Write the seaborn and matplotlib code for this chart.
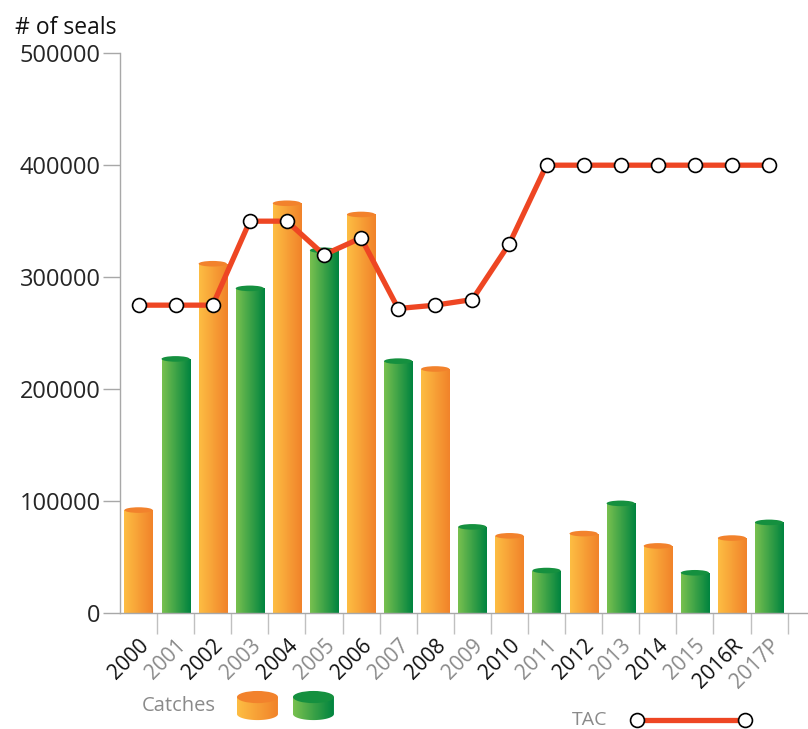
import numpy as np
import pandas as pd
import matplotlib.pyplot as plt
import seaborn as sns
from matplotlib.colors import LinearSegmentedColormap
from matplotlib.patches import Ellipse, Polygon
from matplotlib.lines import Line2D
from matplotlib.transforms import ScaledTranslation

years = ["2000", "2001", "2002", "2003", "2004", "2005", "2006", "2007", "2008",
         "2009", "2010", "2011", "2012", "2013", "2014", "2015", "2016R", "2017P"]
catches = [92000, 227000, 312000, 290000, 366000, 324000, 356000, 225000, 218000,
           77000, 69000, 38000, 71000, 98000, 60000, 36000, 67000, 81000]
tac = [275000, 275000, 275000, 350000, 350000, 320000, 335000, 272000, 275000,
       280000, 330000, 400000, 400000, 400000, 400000, 400000, 400000, 400000]
kind = ["orange" if i % 2 == 0 else "green" for i in range(len(years))]

df = pd.DataFrame({"year": years, "catch": catches, "kind": kind})

orange_cm = LinearSegmentedColormap.from_list("o", ["#FDBD43", "#F1832A"])
green_cm = LinearSegmentedColormap.from_list("g", ["#78C04F", "#00843F"])
cap_col = {"orange": "#F2822C", "green": "#15903F"}

sns.set_style("white")
plt.rcParams["font.family"] = ["Open Sans", "DejaVu Sans"]

fig = plt.figure(figsize=(8.08, 7.29), dpi=100)
ax = fig.add_axes([0.1485, 0.159, 0.8515, 0.768])

sns.barplot(data=df, x="year", y="catch", hue="kind", dodge=False, width=0.76,
            palette={"orange": "#F7A035", "green": "#3DA446"}, legend=False,
            saturation=1, ax=ax)

# gradient fill + cylinder cap on each bar
grad = np.linspace(0, 1, 64).reshape(1, -1)
for p in list(ax.patches):
    h = p.get_height()
    if h <= 0:
        continue
    x0, w = p.get_x(), p.get_width()
    i = int(round(x0 + w / 2))
    cm = orange_cm if kind[i] == "orange" else green_cm
    im = ax.imshow(grad, cmap=cm, extent=[x0, x0 + w, 0, h], aspect="auto", zorder=2)
    im.set_clip_path(p)
    ax.add_patch(Ellipse((x0 + w / 2, h), w, 5000, color=cap_col[kind[i]], zorder=2.5, lw=0))

sns.lineplot(x=np.arange(len(years)), y=tac, color="#EE4623", lw=3.8, marker="o",
             markersize=10, markerfacecolor="white", markeredgecolor="black",
             markeredgewidth=1.2, ax=ax, zorder=5)

ax.set_xlim(-0.5, 18.05)
ax.set_ylim(0, 500000)
ax.set_yticks([0, 100000, 200000, 300000, 400000, 500000])
ax.set_yticklabels(["0", "100000", "200000", "300000", "400000", "500000"], fontsize=17)
ax.tick_params(axis="y", length=12, color="#A8A8A8", width=1, left=True, pad=2)

ax.set_xticks(np.arange(len(years)))
ax.set_xticklabels(years, rotation=45, ha="right", va="top", rotation_mode="anchor",
                   fontsize=15)
shift = ScaledTranslation(5 / 100, 0, fig.dpi_scale_trans)
for i, t in enumerate(ax.get_xticklabels()):
    t.set_color("#111111" if i % 2 == 0 else "#8A8A8A")
    t.set_transform(t.get_transform() + shift)
ax.tick_params(axis="x", length=0, pad=16)
ax.set_xticks(np.arange(len(years)) + 0.5, minor=True)
ax.tick_params(axis="x", which="minor", length=15, color="#C0C0C0", width=1, bottom=True)

for s in ["top", "right"]:
    ax.spines[s].set_visible(False)
for s in ["left", "bottom"]:
    ax.spines[s].set_color("#A8A8A8")
    ax.spines[s].set_linewidth(1)
ax.set_xlabel("")
ax.set_ylabel("")

fig.text(0.019, 0.962, "# of seals", fontsize=16.5, color="#111111", va="center")

# legend
fig.text(0.176, 0.032, "Catches", fontsize=14.5, color="#8A8A8A", va="center")
theta = np.linspace(0, np.pi, 40)
body = [(0, 0.78), (1, 0.78)] + list(zip(0.5 + 0.5 * np.cos(theta), 0.25 - 0.19 * np.sin(theta)))
for left, cm, cc in [(0.2933, orange_cm, cap_col["orange"]), (0.3626, green_cm, cap_col["green"])]:
    lax = fig.add_axes([left, 0.0096, 0.0507, 0.0439])
    lax.set_xlim(0, 1)
    lax.set_ylim(0, 1)
    lax.axis("off")
    poly = Polygon(body, closed=True, fc="none", ec="none")
    lax.add_patch(poly)
    im = lax.imshow(grad, cmap=cm, extent=[0, 1, 0, 1], aspect="auto")
    im.set_clip_path(poly)
    lax.add_patch(Ellipse((0.5, 0.78), 1, 0.38, color=cc, lw=0))

fig.text(0.708, 0.012, "TAC", fontsize=14, color="#8A8A8A", va="center")
fig.add_artist(Line2D([0.788, 0.922], [0.012, 0.012], color="#EE4623", lw=3.8,
                      marker="o", markersize=10, markerfacecolor="white",
                      markeredgecolor="black", markeredgewidth=1.2,
                      markevery=[0, 1]))

fig.savefig("out.png", dpi=100)
